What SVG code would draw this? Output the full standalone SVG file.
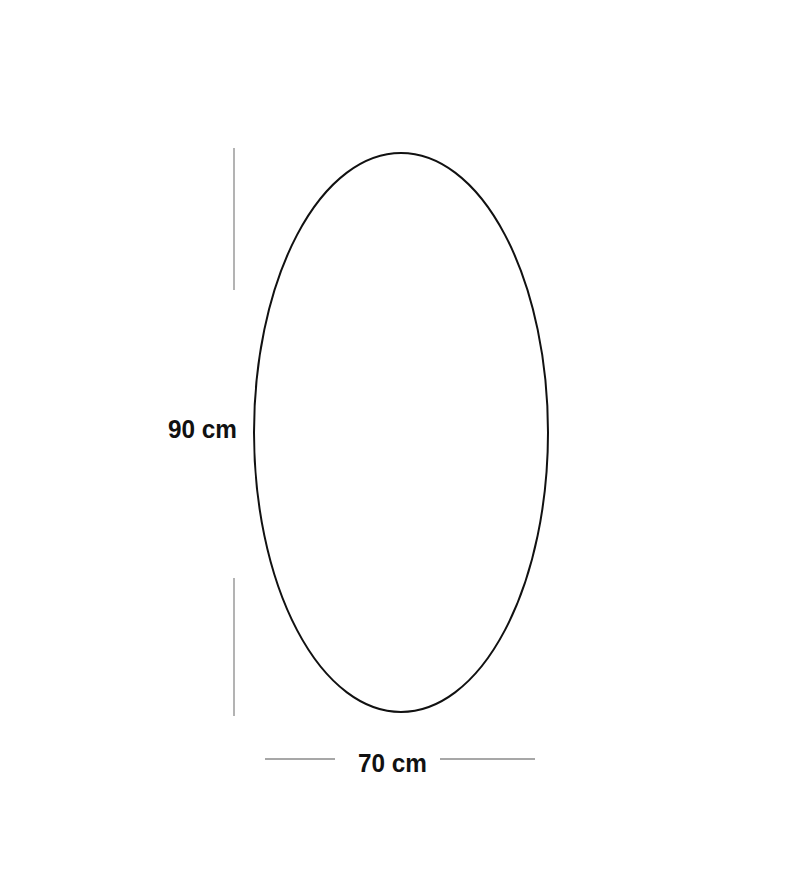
<svg xmlns="http://www.w3.org/2000/svg" width="800" height="890" viewBox="0 0 800 890">
<style>
.dim{stroke:#8a8a8a;stroke-width:1.3;fill:none}
.lbl{font-family:"Liberation Sans",Arial,sans-serif;font-weight:bold;font-size:25px;fill:#111}
</style>
<rect width="800" height="890" fill="#fff"/>
<g id="mirror">
<ellipse cx="401" cy="432.5" rx="147" ry="279.5" fill="none" stroke="#111" stroke-width="2"/>
</g>
<g id="connectors">
<line class="dim" x1="234" y1="148" x2="234" y2="290"/>
<line class="dim" x1="234" y1="578" x2="234" y2="716"/>
<line class="dim" x1="265" y1="759" x2="335" y2="759"/>
<line class="dim" x1="440" y1="759" x2="535" y2="759"/>
</g>
<g id="height-label"><text class="lbl" x="202.5" y="438" text-anchor="middle" textLength="69" lengthAdjust="spacingAndGlyphs">90 cm</text></g>
<g id="width-label"><text class="lbl" x="392.5" y="772" text-anchor="middle" textLength="69" lengthAdjust="spacingAndGlyphs">70 cm</text></g>
</svg>
